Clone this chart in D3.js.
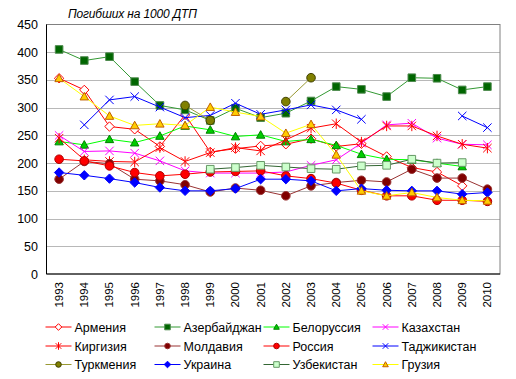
<!DOCTYPE html>
<html>
<head>
<meta charset="utf-8">
<script src="https://cdn.jsdelivr.net/npm/d3@7"></script>
<style>
body { margin: 0; background: #fff; }
svg { display: block; }
text { font-family: "Liberation Sans", Arial, sans-serif; fill: #000; }
</style>
</head>
<body>
<svg></svg>
<script>
// data
const years = [1993, 1994, 1995, 1996, 1997, 1998, 1999, 2000, 2001, 2002, 2003, 2004, 2005, 2006, 2007, 2008, 2009, 2010];
const yTicks = [0, 50, 100, 150, 200, 250, 300, 350, 400, 450];
const names = ["Армения", "Азербайджан", "Белоруссия", "Казахстан", "Киргизия", "Молдавия",
               "Россия", "Таджикистан", "Туркмения", "Украина", "Узбекистан", "Грузия"];

const armenia      = [353, 332, 266, 261, 230, 287, 220, 226, 231, 234, 244, 230, 235, 212, 192, 184, 159, null];
const azerbaijan   = [405, 385, 392, 347, 304, 296, 277, 299, 282, 290, 312, 338, 333, 320, 354, 353, 332, 338];
const belarus      = [239, 233, 243, 237, 249, 267, 260, 248, 251, 239, 243, 232, 216, 207, 206, 200, 194, null];
const kazakhstan   = [250, 221, 222, 218, 204, 186, 182, 182, 182, 184, 196, 206, 236, 269, 272, 245, 234, 233];
const kyrgyzstan   = [245, 206, 203, 202, 228, 203, 219, 228, 222, 242, 263, 271, 238, 267, 267, 249, 234, 227];
const moldova      = [171, 203, 199, 171, 168, 161, 148, 155, 151, 141, 159, 165, 169, 166, 189, 173, 173, 153];
const russia       = [207, 204, 195, 183, 177, 180, 184, 185, 186, 177, 172, 164, 151, 141, 141, 133, 133, 131];
const tajikistan   = [null, 269, 314, 320, 301, 282, 286, 308, 288, 296, 305, 296, 279, null, null, null, 285, 264];
const turkmenistan = [null, null, null, null, null, 304, 277, null, null, 311, 354, null, null, null, null, null, null, null];
const ukraine      = [183, 178, 172, 165, 156, 150, 150, 154, 171, 171, 168, 150, 154, 151, 150, 150, 144, 147];
const uzbekistan   = [null, null, null, null, null, null, 189, 192, 196, 193, 190, 189, 195, 196, 207, 200, 201, null];
const georgia      = [353, 320, 285, 268, 271, 268, 301, 292, 284, 254, 270, 215, 150, 141, 147, 138, 133, 132];

const values = [armenia, azerbaijan, belarus, kazakhstan, kyrgyzstan, moldova,
                russia, tajikistan, turkmenistan, ukraine, uzbekistan, georgia];

// look of each series: line colour, marker shape, fill, outline
const looks = [
  {line: "#ff0000", shape: "diamond", fill: "#ffffff", stroke: "#ff0000"},
  {line: "#339933", shape: "square", fill: "#006600", stroke: "#4d8a4d"},
  {line: "#00ff00", shape: "triangle", fill: "#00cc00", stroke: "#008000"},
  {line: "#ff00ff", shape: "x", fill: "none", stroke: "#ff00ff"},
  {line: "#ff0000", shape: "star", fill: "none", stroke: "#ff0000"},
  {line: "#993333", shape: "circle", fill: "#800000", stroke: "#993333"},
  {line: "#ff0000", shape: "circle", fill: "#ff0000", stroke: "#b00000"},
  {line: "#0000ff", shape: "x", fill: "none", stroke: "#0000ff"},
  {line: "#999933", shape: "circle", fill: "#808000", stroke: "#404000"},
  {line: "#0000ff", shape: "diamond", fill: "#0000ff", stroke: "#0000ff"},
  {line: "#336633", shape: "square", fill: "#ccffcc", stroke: "#669966"},
  {line: "#ffff00", shape: "triangle", fill: "#ffcc00", stroke: "#c06000"}
];

function marker(shape, h) {
  if (shape === "square") return `M${-h},${-h}h${2*h}v${2*h}h${-2*h}Z`;
  if (shape === "diamond") return `M0,${-h - 0.5}L${h + 0.5},0L0,${h + 0.5}L${-h - 0.5},0Z`;
  if (shape === "triangle") return `M0,${-h}L${h},${h*0.8}L${-h},${h*0.8}Z`;
  if (shape === "circle") return `M${-h},0A${h},${h} 0 1,0 ${h},0A${h},${h} 0 1,0 ${-h},0Z`;
  if (shape === "x") return `M${-h},${-h}L${h},${h}M${-h},${h}L${h},${-h}`;
  // asterisk
  return `M${-h},${-h}L${h},${h}M${-h},${h}L${h},${-h}M0,${-h - 1}L0,${h + 1}`;
}

const svg = d3.select("svg").attr("width", 516).attr("height", 379);

const plotLeft = 46.5, plotRight = 500, plotTop = 24.5, plotBottom = 274;
const x = d3.scaleBand().domain(years).range([plotLeft, plotRight]);
const y = d3.scaleLinear().domain([0, 450]).range([plotBottom, plotTop]);
const cx = yr => x(yr) + x.bandwidth() / 2;

// grid and frame
svg.selectAll(".grid").data(yTicks.filter(t => t > 0 && t < 450)).enter()
  .append("line")
  .attr("x1", plotLeft).attr("x2", plotRight)
  .attr("y1", d => Math.round(y(d)) + 0.5).attr("y2", d => Math.round(y(d)) + 0.5)
  .attr("stroke", "#b8b8b8");
svg.append("rect").attr("x", plotLeft).attr("y", plotTop)
  .attr("width", plotRight - plotLeft).attr("height", plotBottom - plotTop)
  .attr("fill", "none").attr("stroke", "#808080");
svg.append("line").attr("x1", plotLeft).attr("x2", plotLeft).attr("y1", plotTop).attr("y2", plotBottom).attr("stroke", "#000");
svg.append("line").attr("x1", plotLeft).attr("x2", plotRight).attr("y1", plotBottom).attr("y2", plotBottom).attr("stroke", "#000");

// y labels
svg.selectAll(".ylab").data(yTicks).enter()
  .append("text")
  .attr("x", 38).attr("y", d => y(d) + 4.5)
  .attr("text-anchor", "end").attr("font-size", 12.5)
  .text(d => d);

// x labels, rotated
svg.selectAll(".xlab").data(years).enter()
  .append("text")
  .attr("transform", d => `translate(${cx(d) + 4},${plotBottom + 8}) rotate(-90)`)
  .attr("text-anchor", "end").attr("font-size", 11.5)
  .text(d => d);

// title
svg.append("text").attr("x", 68).attr("y", 18).attr("font-size", 12)
  .attr("font-style", "italic")
  .attr("textLength", 129).attr("lengthAdjust", "spacing")
  .text("Погибших на 1000 ДТП");

// series
const line = d3.line()
  .defined(d => d != null)
  .x((d, i) => cx(years[i]))
  .y(d => y(d));

values.forEach((vals, k) => {
  const look = looks[k];
  svg.append("path").attr("d", line(vals))
    .attr("fill", "none").attr("stroke", look.line).attr("stroke-width", 1);
  const h = look.shape === "circle" ? 4.3 : (look.shape === "square" ? 3.8 : 4.2);
  svg.selectAll(null).data(years.filter((yr, i) => vals[i] != null)).enter()
    .append("path")
    .attr("transform", yr => `translate(${cx(yr)},${y(vals[years.indexOf(yr)])})`)
    .attr("d", marker(look.shape, h))
    .attr("fill", look.fill).attr("stroke", look.stroke).attr("stroke-width", 1);
});

// legend
const legCols = [45.5, 154.5, 263.5, 372.5];
const legRows = [327, 346, 364.5];
names.forEach((name, k) => {
  const lx = legCols[k % 4], ly = legRows[Math.floor(k / 4)];
  const look = looks[k];
  svg.append("line").attr("x1", lx).attr("x2", lx + 26).attr("y1", ly).attr("y2", ly)
    .attr("stroke", look.line);
  svg.append("path").attr("transform", `translate(${lx + 13},${ly})`)
    .attr("d", marker(look.shape, 2.8))
    .attr("fill", look.fill).attr("stroke", look.stroke);
  svg.append("text").attr("x", lx + 29).attr("y", ly + 4.5).attr("font-size", 12.5).text(name);
});
</script>
</body>
</html>
